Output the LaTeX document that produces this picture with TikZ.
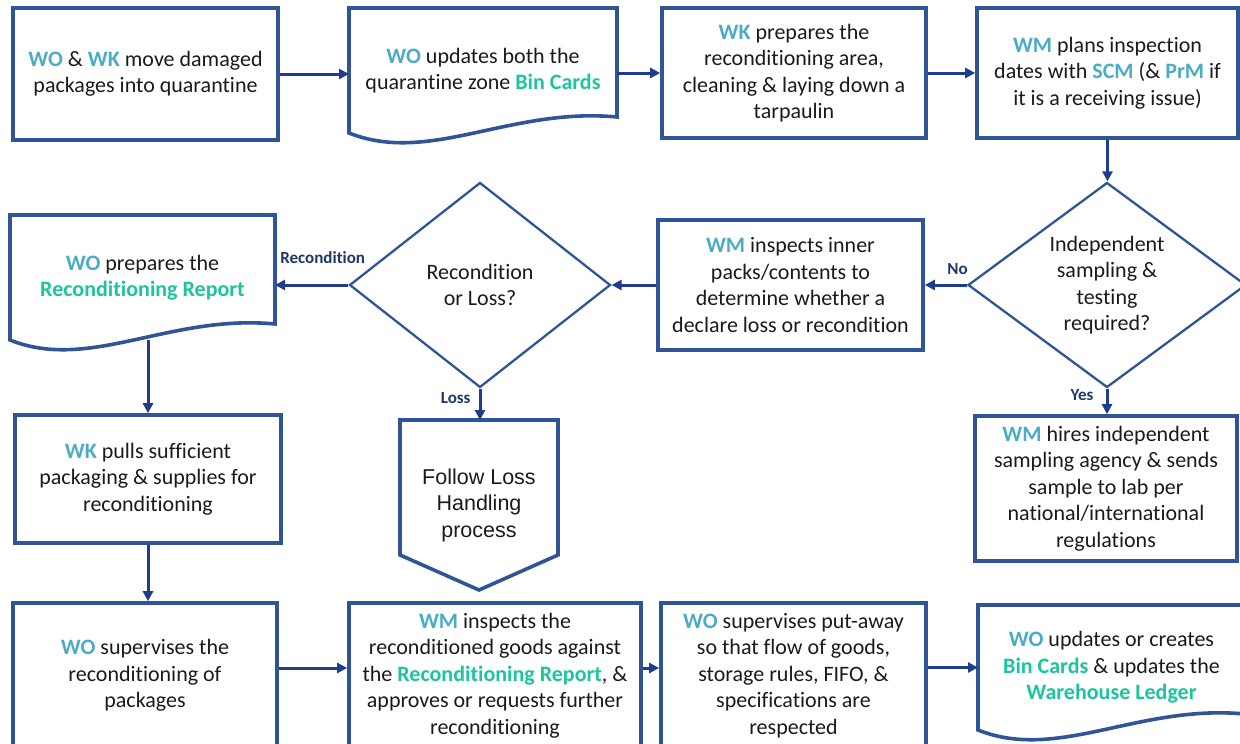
\documentclass[tikz,border=0pt]{standalone}
\usepackage{fontspec}
\setmainfont[Ligatures=NoCommon]{Carlito}
\newfontfamily\arialfont{Liberation Sans}
\usetikzlibrary{arrows.meta}
\usetikzlibrary{shapes.geometric}
\usetikzlibrary{calc}
\definecolor{boxblue}{HTML}{2F5597}
\definecolor{flowblue}{HTML}{1F3D8F}
\definecolor{tagblue}{HTML}{1F3864}
\definecolor{actorteal}{HTML}{4BACC6}
\definecolor{docgreen}{HTML}{1DC49E}
\definecolor{inkgray}{HTML}{1A1A1A}
\newcommand{\actor}[1]{\textcolor{actorteal}{\textbf{#1}}}
\newcommand{\record}[1]{\textcolor{docgreen}{\textbf{#1}}}
\tikzset{box/.style = {rectangle, draw=boxblue, line width=3.6pt, align=center,
                       text=inkgray, inner sep=0pt,
                       font=\fontsize{22}{26.5}\selectfont}}
\tikzset{docbox/.style = {box, draw=none, outer sep=0pt}}
\tikzset{endbox/.style = {docbox, font=\arialfont\fontsize{21.5}{26.5}\selectfont}}
\tikzset{outline/.style = {draw=boxblue, line width=3.6pt}}
\tikzset{decision/.style = {diamond, draw=boxblue, line width=2.3pt, aspect=1.36,
                            align=center, text=inkgray, inner sep=0pt,
                            font=\fontsize{22}{26.5}\selectfont}}
\tikzset{flow/.style = {draw=flowblue, line width=3pt,
                        -{Triangle[length=10pt,width=10pt]}}}
\tikzset{tag/.style = {text=tagblue, inner sep=0pt,
                       font=\bfseries\fontsize{17}{17}\selectfont}}
% document symbol: straight top and sides, wavy bottom edge
\newcommand{\docoutline}[2]{%
  \draw[outline] (#1.south west) -- (#1.north west) -- (#1.north east)
    -- ([yshift=16pt]#1.south east)
    .. controls ([xshift={-0.4*#2},yshift=26pt]#1.south east)
            and ([xshift={0.3*#2},yshift=-32pt]#1.south west) .. (#1.south west)
    -- cycle;}

\begin{document}
\begin{tikzpicture}[x=1pt, y=-1pt]
    \useasboundingbox (0, 0) rectangle (1240, 744);

    % top row
    \node [box, minimum width=265, minimum height=132] (A) at (145.5, 74)
        {\actor{WO} \& \actor{WK} move damaged\\packages into quarantine};
    \node [docbox, minimum width=268, minimum height=125] (B) at (483, 70.5)
        {\actor{WO} updates both the\\quarantine zone \record{Bin Cards}};
    \node [box, minimum width=264, minimum height=130] (C) at (794, 73)
        {\actor{WK} prepares the\\reconditioning area,\\cleaning \& laying down a\\tarpaulin};
    \node [box, minimum width=261, minimum height=130] (D) at (1107.5, 73)
        {\actor{WM} plans inspection\\dates with \actor{SCM} (\& \actor{PrM} if\\it is a receiving issue)};

    % middle row
    \node [decision, minimum width=278, minimum height=205] (E) at (1107, 285)
        {Independent\\sampling \&\\testing\\required?};
    \node [box, minimum width=265, minimum height=130] (F) at (790.5, 285)
        {\actor{WM} inspects inner\\packs/contents to\\determine whether a\\declare loss or recondition};
    \node [decision, minimum width=261, minimum height=205] (G) at (480, 285)
        {Recondition\\or Loss?};
    \node [docbox, minimum width=265, minimum height=125] (H) at (142.5, 277.5)
        {\actor{WO} prepares the\\\record{Reconditioning Report}};

    \node [endbox, minimum width=158, minimum height=170] (P) at (479, 505)
        {Follow Loss\\Handling\\process};
    \node [box, minimum width=262, minimum height=145] (J) at (1106, 488.5)
        {\actor{WM} hires independent\\sampling agency \& sends\\sample to lab per\\national/international\\regulations};
    \node [box, minimum width=266, minimum height=128] (K) at (148, 479)
        {\actor{WK} pulls sufficient\\packaging \& supplies for\\reconditioning};

    % bottom row
    \node [box, minimum width=264, minimum height=145] (L) at (145, 675.5)
        {\actor{WO} supervises the\\reconditioning of\\packages};
    \node [box, minimum width=292, minimum height=145] (M) at (495, 675.5)
        {\actor{WM} inspects the\\reconditioned goods against\\the \record{Reconditioning Report}, \&\\approves or requests further\\reconditioning};
    \node [box, minimum width=265, minimum height=145] (N) at (793.5, 675.5)
        {\actor{WO} supervises put-away\\so that flow of goods,\\storage rules, FIFO, \&\\specifications are\\respected};
    \node [docbox, minimum width=267, minimum height=125] (O) at (1111.5, 667.5)
        {\actor{WO} updates or creates\\\record{Bin Cards} \& updates the\\\record{Warehouse Ledger}};

    \docoutline{B}{268}
    \docoutline{H}{265}
    \docoutline{O}{267}

    % loss handling: pentagon pointing down
    \draw [outline] (P.north west) -- (P.north east) -- ([yshift=35pt]P.south east)
        -- (P.south) -- ([yshift=35pt]P.south west) -- cycle;

    \draw [flow] (A.east) -- (A.east -| B.west);
    \draw [flow] (C.west -| B.east) -- (C.west);
    \draw [flow] (C) -- (D);
    \draw [flow] (D.south) -- (D.south |- E.north);
    \draw [flow] (E.west) -- (F.east) node [tag, pos=0.22, above=9pt] {No};
    \draw [flow] (E.south) -- (E.south |- J.north) node [tag, pos=0.25, left=12pt] {Yes};
    \draw [flow] (F) -- (G);
    \draw [flow] (G.west) -- (G.west -| H.east) node [tag, pos=0.35, above=20pt] {Recondition};
    \draw [flow] (G.south) -- (G.south |- P.north) node [tag, pos=0.3, left=8pt] {Loss};
    \draw [flow] (H.south -| K.north) -- (K.north);
    \draw [flow] (K.south) -- (K.south |- L.north);
    \draw [flow] ([yshift=7.5pt]L.east) -- ([yshift=7.5pt]M.west);
    \draw [flow] ([yshift=7.5pt]M.east) -- ([yshift=7.5pt]N.west);
    \draw [flow] (O.west -| N.east) -- (O.west);
\end{tikzpicture}
\end{document}
